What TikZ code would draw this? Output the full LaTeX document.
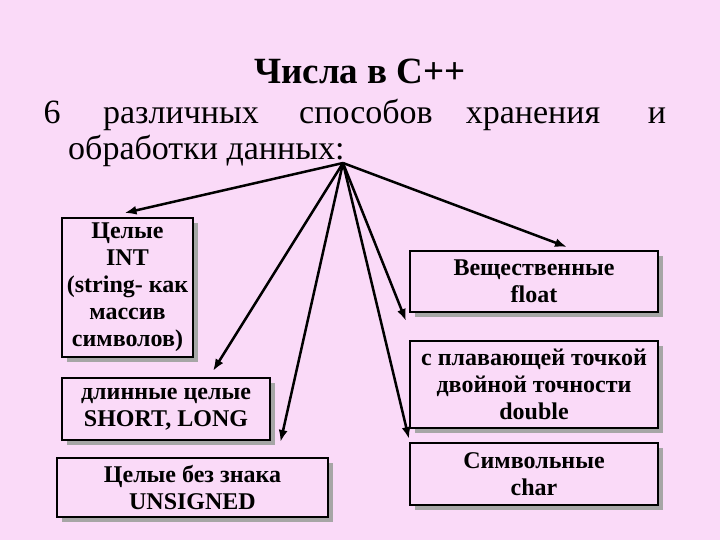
\documentclass[tikz,border=0pt]{standalone}
\usepackage{fontspec}
\setmainfont{Liberation Serif}
\usetikzlibrary{shadows,calc,arrows.meta}
\definecolor{bg}{RGB}{250,218,248}
\begin{document}
\begin{tikzpicture}[x=1pt,y=-1pt,
 box/.style={draw=black,line width=2pt,fill=bg,align=center,inner sep=0pt,
   font=\fontsize{24}{27}\selectfont\bfseries,
   drop shadow={shadow xshift=5pt,shadow yshift=-5pt,fill=gray!70,opacity=1}},
 arr/.style={line width=2.5pt,-{Latex[length=12pt,width=9pt]}},
 word/.style={font=\fontsize{34}{38}\selectfont,inner sep=0pt,anchor=base}]
\fill[bg] (0,0) rectangle (720,540);
\useasboundingbox (0,0) rectangle (720,540);
\node[font=\fontsize{37}{40}\selectfont\bfseries,anchor=base] (t) at (360,84) {Числа в С++};
\node[word] (w1) at (52,124) {6};
\node[word] (w2) at (181,124) {различных};
\node[word] (w3) at (366,124) {способов};
\node[word] (w4) at (533,124) {хранения};
\node[word] (w5) at (657,124) {и};
\node[word,anchor=base west] (w6) at (68,160) {обработки данных:};
\coordinate (o) at (343,163);
\node[box,minimum width=131,minimum height=139] (b1) at (127.5,287.5) {Целые\\INT\\(string- как\\массив\\символов)};
\node[box,minimum width=208,minimum height=62] (b2) at (166,409) {длинные целые\\SHORT, LONG};
\node[box,minimum width=271,minimum height=59] (b3) at (192.5,487.5) {Целые без знака\\UNSIGNED};
\node[box,minimum width=248,minimum height=61] (b4) at (534,281.5) {Вещественные\\float};
\node[box,minimum width=248,minimum height=87] (b5) at (534,384.5) {с плавающей точкой\\двойной точности\\double};
\node[box,minimum width=248,minimum height=62] (b6) at (534,474) {Символьные\\char};
\draw[arr] (o) -- ($(b1.north)+(-3,-4)$);
\draw[arr] (o) -- ($(b2.north)+(47,-6)$);
\draw[arr] (o) -- ($(b3.north)+(88,-15)$);
\draw[arr] (o) -- ($(b4.north)+(33,-3)$);
\draw[arr] (o) -- ($(b5.north west)+(-3,-19)$);
\draw[arr] (o) -- ($(b6.north west)+(0,-3)$);
\end{tikzpicture}
\end{document}
